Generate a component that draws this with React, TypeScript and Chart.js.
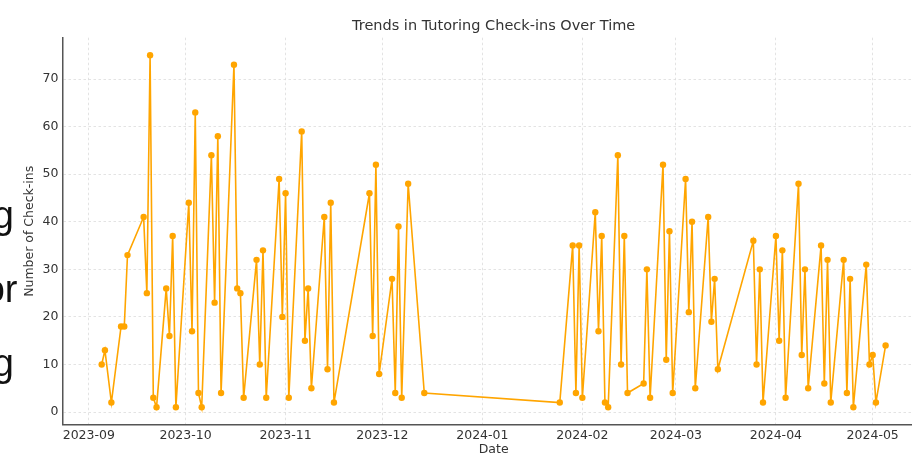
import React, { useEffect, useRef } from 'react';
import { Chart, registerables } from 'chart.js';

Chart.register(...registerables);

const TITLE = 'Trends in Tutoring Check-ins Over Time';
const X_LABEL = 'Date';
const Y_LABEL = 'Number of Check-ins';

const dates = [
  '2023-09-05', '2023-09-06', '2023-09-08', '2023-09-11', '2023-09-12', '2023-09-13',
  '2023-09-18', '2023-09-19', '2023-09-20', '2023-09-21', '2023-09-22',
  '2023-09-25', '2023-09-26', '2023-09-27', '2023-09-28',
  '2023-10-02', '2023-10-03', '2023-10-04', '2023-10-05', '2023-10-06',
  '2023-10-09', '2023-10-10', '2023-10-11', '2023-10-12',
  '2023-10-16', '2023-10-17', '2023-10-18', '2023-10-19',
  '2023-10-23', '2023-10-24', '2023-10-25', '2023-10-26',
  '2023-10-30', '2023-10-31', '2023-11-01', '2023-11-02',
  '2023-11-06', '2023-11-07', '2023-11-08', '2023-11-09',
  '2023-11-13', '2023-11-14', '2023-11-15', '2023-11-16',
  '2023-11-27', '2023-11-28', '2023-11-29', '2023-11-30',
  '2023-12-04', '2023-12-05', '2023-12-06', '2023-12-07', '2023-12-09', '2023-12-14',
  '2024-01-25', '2024-01-29', '2024-01-30', '2024-01-31', '2024-02-01',
  '2024-02-05', '2024-02-06', '2024-02-07', '2024-02-08', '2024-02-09',
  '2024-02-12', '2024-02-13', '2024-02-14', '2024-02-15',
  '2024-02-20', '2024-02-21', '2024-02-22',
  '2024-02-26', '2024-02-27', '2024-02-28', '2024-02-29',
  '2024-03-04', '2024-03-05', '2024-03-06', '2024-03-07',
  '2024-03-11', '2024-03-12', '2024-03-13', '2024-03-14',
  '2024-03-25', '2024-03-26', '2024-03-27', '2024-03-28',
  '2024-04-01', '2024-04-02', '2024-04-03', '2024-04-04',
  '2024-04-08', '2024-04-09', '2024-04-10', '2024-04-11',
  '2024-04-15', '2024-04-16', '2024-04-17', '2024-04-18',
  '2024-04-22', '2024-04-23', '2024-04-24', '2024-04-25',
  '2024-04-29', '2024-04-30', '2024-05-01', '2024-05-02', '2024-05-05',
];

const checkIns = [
  10, 13, 2, 18, 18, 33,
  41, 25, 75, 3, 1,
  26, 16, 37, 1,
  44, 17, 63, 4, 1,
  54, 23, 58, 4,
  73, 26, 25, 3,
  32, 10, 34, 3,
  49, 20, 46, 3,
  59, 15, 26, 5,
  41, 9, 44, 2,
  46, 16, 52, 8,
  28, 4, 39, 3, 48, 4,
  2, 35, 4, 35, 3,
  42, 17, 37, 2, 1,
  54, 10, 37, 4,
  6, 30, 3,
  52, 11, 38, 4,
  49, 21, 40, 5,
  41, 19, 28, 9,
  36, 10, 30, 2,
  37, 15, 34, 3,
  48, 12, 30, 5,
  35, 6, 32, 2,
  32, 4, 28, 1,
  31, 10, 12, 2, 14,
];

const monthTicks = [
  '2023-09-01', '2023-10-01', '2023-11-01', '2023-12-01', '2024-01-01',
  '2024-02-01', '2024-03-01', '2024-04-01', '2024-05-01',
];

const yTicks = [0, 10, 20, 30, 40, 50, 60, 70];

const toMs = (s: string) => Date.parse(s + 'T00:00:00Z');
const fmtMonth = (v: number) => {
  const d = new Date(v);
  const m = d.getUTCMonth() + 1;
  return `${d.getUTCFullYear()}-${m < 10 ? '0' + m : m}`;
};

const FONT = 'DejaVu Sans';
const TEXT = '#333333';
const LINE = '#FFA500';

function TrendChart() {
  const ref = useRef<HTMLCanvasElement | null>(null);
  useEffect(() => {
    if (!ref.current) return;
    const xs = dates.map(toMs);
    const x0 = Math.min(...xs);
    const x1 = Math.max(...xs);
    const xm = (x1 - x0) * 0.05;
    const y0 = Math.min(...checkIns);
    const y1 = Math.max(...checkIns);
    const ym = (y1 - y0) * 0.05;
    const points = xs.map((x, i) => ({ x, y: checkIns[i] }));
    const chart = new Chart(ref.current, {
      type: 'line',
      data: {
        datasets: [
          {
            data: points,
            borderColor: LINE,
            backgroundColor: LINE,
            borderWidth: 1.6,
            pointRadius: 3.2,
            pointBackgroundColor: LINE,
            pointBorderWidth: 0,
            tension: 0,
            fill: false,
          },
        ],
      },
      options: {
        responsive: false,
        animation: false,
        layout: { padding: { left: 0, right: 75.2, top: 0, bottom: 0 } },
        plugins: {
          legend: { display: false },
          tooltip: { enabled: false },
          title: {
            display: true,
            text: TITLE,
            fullSize: false,
            color: TEXT,
            font: { family: FONT, size: 14.5, weight: 'normal' },
            padding: { top: 17.3, bottom: 3 },
          },
        },
        scales: {
          x: {
            type: 'linear',
            min: x0 - xm,
            max: x1 + xm,
            afterBuildTicks: (s: any) => {
              s.ticks = monthTicks.map((m) => ({ value: toMs(m) }));
            },
            afterFit: (s: any) => {
              s.height = 55.1;
            },
            ticks: {
              callback: (v: any) => fmtMonth(Number(v)),
              color: TEXT,
              font: { family: FONT, size: 12.5 },
              padding: 3,
              maxRotation: 0,
              autoSkip: false,
            },
            grid: { color: '#dcdcdc', lineWidth: 0.8, drawTicks: false },
            border: { display: true, color: '#555555', width: 1.5, dash: [2.5, 2.5] },
            title: {
              display: true,
              text: X_LABEL,
              color: TEXT,
              font: { family: FONT, size: 12.5 },
              padding: { top: 0, bottom: 23 },
            },
          },
          y: {
            type: 'linear',
            min: y0 - ym,
            max: y1 + ym,
            afterBuildTicks: (s: any) => {
              s.ticks = yTicks.map((v) => ({ value: v }));
            },
            afterFit: (s: any) => {
              s.width = 62.5;
            },
            ticks: {
              color: TEXT,
              font: { family: FONT, size: 12.5 },
              padding: 4,
            },
            grid: { color: '#dcdcdc', lineWidth: 0.8, drawTicks: false },
            border: { display: true, color: '#555555', width: 1.5, dash: [2.5, 2.5] },
            title: {
              display: true,
              text: Y_LABEL,
              color: TEXT,
              font: { family: FONT, size: 12.5 },
              padding: { top: 22.5, bottom: 0 },
            },
          },
        },
      },
    } as any);
    return () => chart.destroy();
  }, []);
  return (
    <canvas
      ref={ref}
      width={1000}
      height={480}
      style={{ position: 'absolute', left: 0, top: 0, width: 1000, height: 480 }}
    />
  );
}

const strayStyle: React.CSSProperties = {
  position: 'absolute',
  left: -200,
  width: 214,
  textAlign: 'right',
  fontFamily: '"Liberation Sans", Arial, sans-serif',
  fontSize: 38,
  lineHeight: '38px',
  color: '#111',
  whiteSpace: 'nowrap',
};

export default function App() {
  return (
    <div
      style={{
        position: 'fixed',
        left: 0,
        top: 0,
        width: 912,
        height: 455,
        overflow: 'hidden',
        background: '#ffffff',
      }}
    >
      <TrendChart />
      <div style={{ ...strayStyle, top: 196 }}>g</div>
      <div style={{ ...strayStyle, top: 270, width: 217.5 }}>or</div>
      <div style={{ ...strayStyle, top: 344 }}>g</div>
    </div>
  );
}
